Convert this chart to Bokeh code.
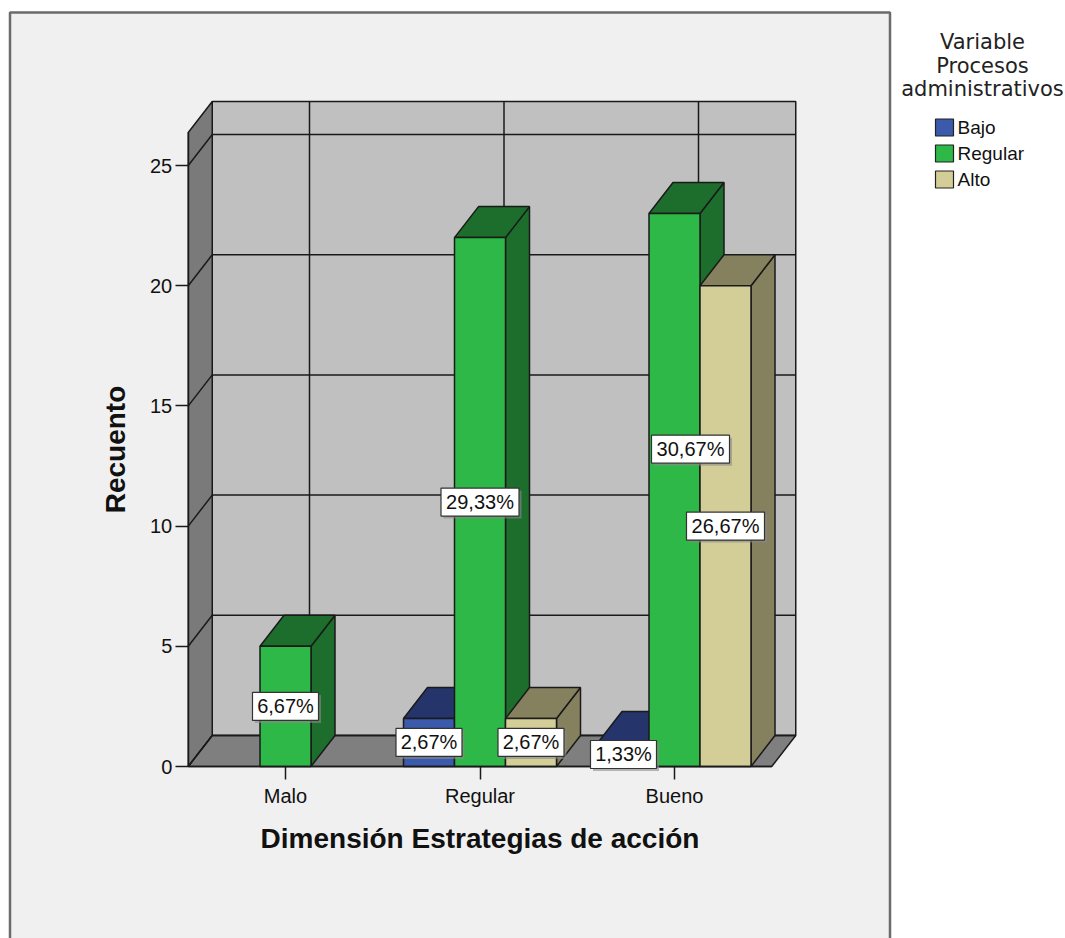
from bokeh.plotting import figure
from bokeh.models import Range1d, LinearAxis, FixedTicker
from bokeh.embed import file_html
from bokeh.resources import INLINE
from bokeh.core.properties import value

# ---------------- data ----------------
categories = ["Malo", "Regular", "Bueno"]
series = ["Bajo", "Regular", "Alto"]
bajo = [0, 2, 1]
regular = [5, 22, 23]
alto = [0, 2, 20]
y_ticks = [0, 5, 10, 15, 20, 25]
x_title = "Dimensión Estrategias de acción"
y_title = "Recuento"
legend_title = ["Variable", "Procesos", "administrativos"]

front_colors = ["#3c5aab", "#2eb848", "#d3ce97"]
dark_colors = ["#25356c", "#1d6e2d", "#85815f"]

values = [bajo, regular, alto]
total = sum(sum(s) for s in values)

# ---------------- geometry (pixel -> data helpers) ----------------
W, H = 1065, 938
X0_PX = 285.0    # pixel x of first category centre
SP_PX = 194.5    # pixels per category step
Y0_PX = 766.0    # pixel y of count 0 (front plane)
UY_PX = 24.04    # pixels per count


def dxp(px):
    return (px - X0_PX) / SP_PX


def dyp(py):
    return (Y0_PX - py) / UY_PX


DX = 24.0 / SP_PX          # depth offset in x (data units)
DY = 31.0 / UY_PX          # depth offset in y (data units)
BW = 51.0 / SP_PX          # bar width
L = -0.5
R = len(categories) - 0.5
TOP = dyp(132)             # top of the 3D box

FONT_NAME = "Liberation Sans"
FONT = value(FONT_NAME)
LINE = "#1a1a1a"

p = figure(width=W, height=H, output_backend="svg", toolbar_location=None,
           x_range=Range1d(dxp(0), dxp(W)), y_range=Range1d(dyp(H), dyp(0)),
           x_axis_type=None, y_axis_type=None, min_border=0,
           outline_line_color=None, background_fill_color="white",
           border_fill_color="white")
p.grid.visible = False

# outer chart frame
p.quad(left=[dxp(9.5)], right=[dxp(889.5)], top=[dyp(12)], bottom=[dyp(980)],
       fill_color="#f0f0f0", line_color="#6b6b6b", line_width=2.5)

# back wall
p.quad(left=[L + DX], right=[R + DX], bottom=[DY], top=[TOP + DY],
       fill_color="#c0c0c0", line_color=LINE, line_width=1.5)
# left wall
p.patch(x=[L, L + DX, L + DX, L], y=[0, DY, TOP + DY, TOP],
        fill_color="#7a7a7a", line_color=LINE, line_width=1.5)
# floor
p.patch(x=[L, R, R + DX, L + DX], y=[0, 0, DY, DY],
        fill_color="#7f7f7f", line_color=LINE, line_width=1.5)

# grid on back wall
p.segment(x0=[L + DX] * len(y_ticks), x1=[R + DX] * len(y_ticks),
          y0=[v + DY for v in y_ticks], y1=[v + DY for v in y_ticks],
          line_color=LINE, line_width=1.5)
p.segment(x0=[i + DX for i in range(len(categories))],
          x1=[i + DX for i in range(len(categories))],
          y0=[DY] * len(categories), y1=[TOP + DY] * len(categories),
          line_color=LINE, line_width=1.5)
# diagonals on left wall
p.segment(x0=[L] * len(y_ticks), x1=[L + DX] * len(y_ticks),
          y0=y_ticks, y1=[v + DY for v in y_ticks],
          line_color=LINE, line_width=1.5)

# ---------------- bars (painter's order, left to right) ----------------
xs, ys, cols = [], [], []
labels = []
n_s = len(series)
for ci in range(len(categories)):
    for si in range(n_s):
        v = values[si][ci]
        if v <= 0:
            continue
        cx = ci + (si - (n_s - 1) / 2) * BW
        l, r = cx - BW / 2, cx + BW / 2
        xs.append([r, r + DX, r + DX, r]); ys.append([0, DY, v + DY, v]); cols.append(dark_colors[si])
        xs.append([l, r, r + DX, l + DX]); ys.append([v, v, v + DY, v + DY]); cols.append(dark_colors[si])
        xs.append([l, r, r, l]); ys.append([0, 0, v, v]); cols.append(front_colors[si])
        pct = f"{v / total * 100:.2f}".replace(".", ",") + "%"
        labels.append({"x": cx, "y": v / 2, "text": pct, "v": v, "ci": ci, "si": si})

p.patches(xs=xs, ys=ys, fill_color=cols, line_color=LINE, line_width=1.5)

# simple collision handling between neighbouring labels of the same category
for a in labels:
    for b in labels:
        if a is b or a["ci"] != b["ci"] or abs(a["si"] - b["si"]) != 1:
            continue
        if a["v"] > b["v"] and abs(a["y"] - b["y"]) < 2.0:
            a["y"] = b["y"] + 3.2
            a["x"] = a["x"] + 16.0 / SP_PX

lx = [d["x"] for d in labels]
ly = [d["y"] for d in labels]
lt = [d["text"] for d in labels]
lw = [12 * len(t) + 6 for t in lt]
sh = p.rect(x=[x + 2.5 / SP_PX for x in lx], y=[y - 2.5 / UY_PX for y in ly],
            width=lw, height=[28] * len(lt), width_units="screen",
            height_units="screen", fill_color="#8a8a8a", fill_alpha=0.6,
            line_color=None)
sh.level = "overlay"
rb = p.rect(x=lx, y=ly, width=lw, height=[28] * len(lt), width_units="screen",
            height_units="screen", fill_color="white", line_color="#333333",
            line_width=1.2)
rb.level = "overlay"
tb = p.text(x=lx, y=ly, text=lt, text_align="center", text_baseline="middle",
            text_font=FONT, text_font_size="20px", text_color="#111111")
tb.level = "overlay"

# ---------------- axes ----------------
common = dict(axis_label_text_font=FONT_NAME, axis_label_text_font_size="28px",
              axis_label_text_font_style="bold", axis_label_text_color="#111111",
              major_label_text_font=FONT_NAME, major_label_text_font_size="20px",
              major_label_text_color="#111111",
              major_tick_in=0, minor_tick_out=0, minor_tick_in=0,
              major_tick_line_color=LINE, major_tick_line_width=1.5,
              axis_line_color=LINE, axis_line_width=1.5)

yaxis = LinearAxis(fixed_location=L, bounds=(0, TOP),
                   ticker=FixedTicker(ticks=y_ticks),
                   axis_label=y_title, axis_label_standoff=16,
                   major_label_standoff=3, major_tick_out=13, **common)
p.add_layout(yaxis, "left")

xaxis = LinearAxis(fixed_location=0, bounds=(L, R),
                   ticker=FixedTicker(ticks=list(range(len(categories)))),
                   major_label_overrides={i: c for i, c in enumerate(categories)},
                   axis_label=x_title, axis_label_standoff=13,
                   major_label_standoff=5, major_tick_out=13, **common)
p.add_layout(xaxis, "below")

# ---------------- legend ----------------
title_y = [dyp(41.5), dyp(65.0), dyp(88.5)]
p.text(x=[dxp(982)] * len(legend_title), y=title_y, text=legend_title,
       text_align="center", text_baseline="middle", text_font=value("DejaVu Sans"),
       text_font_size="21px", text_color="#222222")
item_y = [dyp(127 + 26 * k) for k in range(len(series))]
p.rect(x=[dxp(944)] * len(series), y=item_y, width=18, height=17,
       width_units="screen", height_units="screen", fill_color=front_colors,
       line_color="#222222", line_width=1.2)
p.text(x=[dxp(957)] * len(series), y=item_y, text=series, text_align="left",
       text_baseline="middle", text_font=FONT, text_font_size="19px",
       text_color="#111111")

open("out.html", "w").write(file_html(p, INLINE))
